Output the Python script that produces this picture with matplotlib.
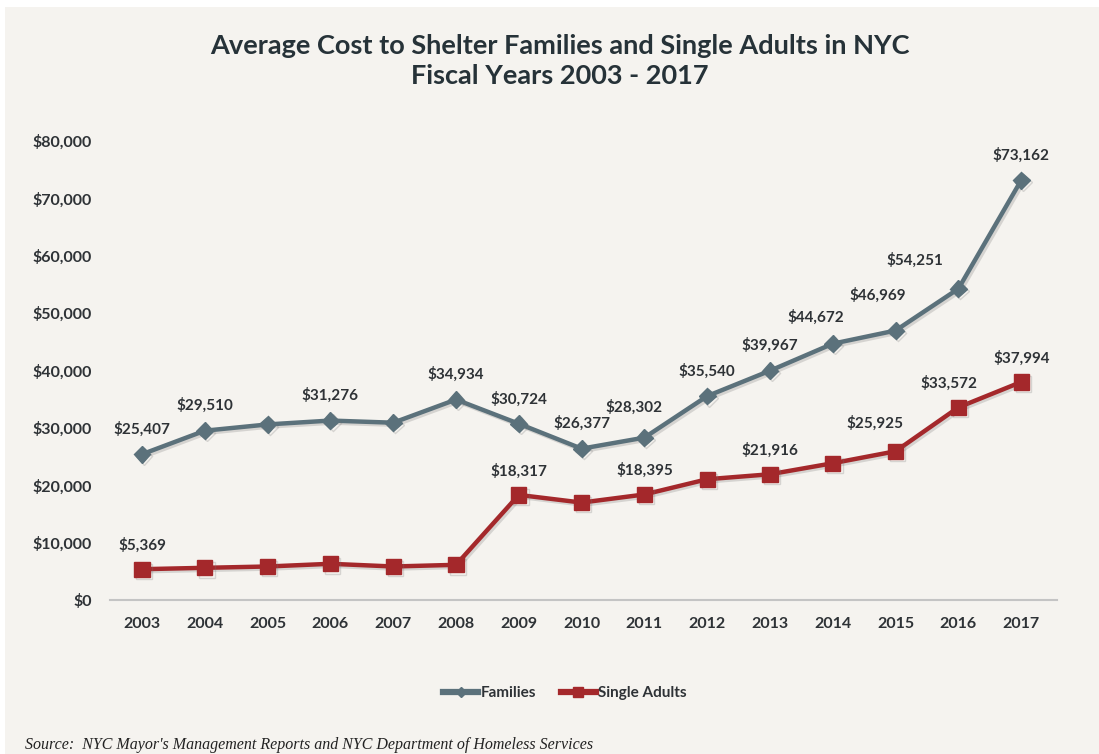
import matplotlib.pyplot as plt
import matplotlib.patheffects as pe
from matplotlib.patches import Rectangle
from matplotlib.lines import Line2D
from matplotlib.ticker import FuncFormatter

# Datos
years = list(range(2003, 2018))
families = [25407, 29510, 30600, 31276, 30900, 34934, 30724, 26377, 28302,
            35540, 39967, 44672, 46969, 54251, 73162]
single_adults = [5369, 5610, 5840, 6310, 5840, 6130, 18317, 16980, 18395,
                 21050, 21916, 23840, 25925, 33572, 37994]
families_labeled = [2003, 2004, 2006, 2008, 2009, 2010, 2011, 2012, 2013,
                    2014, 2015, 2016, 2017]
single_labeled = [2003, 2009, 2011, 2013, 2015, 2016, 2017]

# desplazamientos de etiquetas (pixeles)
fam_offsets = {2011: (-10, 30), 2014: (-17, 26), 2015: (-18, 35), 2016: (-44, 29)}
single_offsets = {2015: (-21, 28), 2016: (-9, 24)}

fam_color = '#5b717b'
single_color = '#a4282b'
text_color = '#2e3236'
bg = '#f5f3ef'

plt.rcParams['font.family'] = ['Lato', 'DejaVu Sans']

fig = plt.figure(figsize=(10.99, 7.54), dpi=100, facecolor='white')
fig.patches.append(Rectangle((5 / 1099, 0), 1, 747 / 754, transform=fig.transFigure,
                             facecolor=bg, edgecolor='none', zorder=-10))

ax = fig.add_axes([110 / 1099, 154 / 754, 947 / 1099, 459 / 754])
ax.patch.set_alpha(0)

shadow = [pe.SimpleLineShadow(offset=(1.5, -1.5), alpha=0.25, shadow_color='#777777'), pe.Normal()]

ax.plot(years, families, color=fam_color, lw=3.2, marker='D', markersize=8.5,
        path_effects=shadow, zorder=3)
ax.plot(years, single_adults, color=single_color, lw=3.2, marker='s', markersize=11,
        path_effects=shadow, zorder=3)

for y, v in zip(years, families):
    if y in families_labeled:
        dx, dy = fam_offsets.get(y, (0, 25))
        ax.annotate(f'${v:,}', (y, v), xytext=(dx, dy), textcoords='offset pixels',
                    ha='center', va='center', fontsize=11, fontweight='bold',
                    color=text_color, annotation_clip=False)

for y, v in zip(years, single_adults):
    if y in single_labeled:
        dx, dy = single_offsets.get(y, (0, 24))
        ax.annotate(f'${v:,}', (y, v), xytext=(dx, dy), textcoords='offset pixels',
                    ha='center', va='center', fontsize=11, fontweight='bold',
                    color=text_color, annotation_clip=False)

ax.set_xlim(2003 - 0.51, 2017 + 0.57)
ax.set_ylim(0, 80000)
ax.set_xticks(years)
ax.set_yticks(range(0, 80001, 10000))
ax.yaxis.set_major_formatter(FuncFormatter(lambda v, p: f'${int(v):,}'))
for s in ['top', 'right', 'left']:
    ax.spines[s].set_visible(False)
ax.spines['bottom'].set_color('#c4c4c4')
ax.spines['bottom'].set_linewidth(1.5)
ax.tick_params(axis='both', length=0, labelsize=11.5, labelcolor=text_color)
ax.tick_params(axis='y', pad=13)
ax.tick_params(axis='x', pad=12)
for lbl in ax.get_xticklabels() + ax.get_yticklabels():
    lbl.set_fontweight('bold')

fig.text(560 / 1099, 1 - 46 / 754, 'Average Cost to Shelter Families and Single Adults in NYC',
         ha='center', va='center', fontsize=19.5, fontweight='bold', color='#263238')
fig.text(560 / 1099, 1 - 76 / 754, 'Fiscal Years 2003 - 2017',
         ha='center', va='center', fontsize=19.5, fontweight='bold', color='#263238')

handles = [Line2D([], [], color=fam_color, lw=4.5, marker='D', markersize=5),
           Line2D([], [], color=single_color, lw=4.5, marker='s', markersize=7)]
leg = fig.legend(handles, ['Families', 'Single Adults'], loc='center',
                 bbox_to_anchor=(565 / 1099, 1 - 693 / 754), ncol=2,
                 frameon=False, handlelength=2.3, columnspacing=1.6,
                 handletextpad=0.15, prop={'weight': 'bold', 'size': 11})
for t in leg.get_texts():
    t.set_color(text_color)

fig.text(25 / 1099, 1 - 745 / 754, "Source:  NYC Mayor's Management Reports and NYC Department of Homeless Services",
         ha='left', va='center', fontsize=11.5, style='italic', family='Liberation Serif',
         color='#222222')

fig.savefig('out.png', dpi=100, facecolor=fig.get_facecolor())
